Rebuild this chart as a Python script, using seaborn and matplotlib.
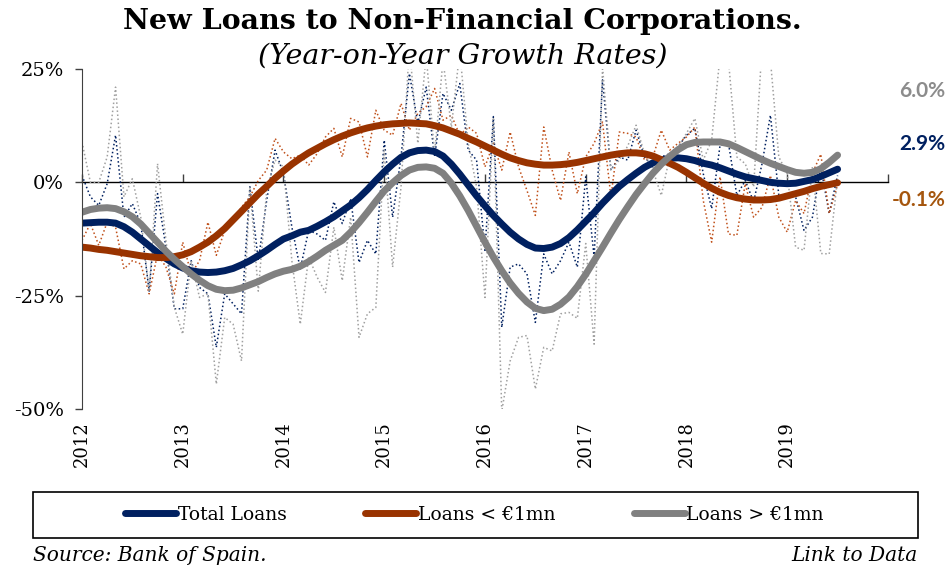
import numpy as np
import pandas as pd
import seaborn as sns
import matplotlib.pyplot as plt

# Monthly YoY growth (%) of new loans, Jan 2012 - Jul 2019
total_raw = [1.5, -3.2, -5.1, -0.3, 10.4, -7.7, -4.7, -9.1, -24.0, -2.5, -14.3, -27.9,
             -27.9, -17.3, -23.2, -24.6, -36.4, -24.6, -26.8, -29.0, -1.0, -17.3, -4.0, 7.1,
             1.9, -9.9, -19.1, -10.6, -11.4, -12.8, -4.3, -9.1, -3.6, -17.7, -12.8, -15.8,
             9.3, -7.7, 5.6, 24.0, 13.0, 21.0, 5.6, 19.6, 15.9, 21.8, 7.1, 4.9,
             -15.0, 14.5, -32.0, -18.7, -18.0, -20.2, -30.9, -15.8, -20.2, -17.3, -13.2, -18.7,
             1.2, -16.5, 22.6, 2.7, 5.6, 4.9, 11.5, 5.6, 3.4, 5.6, 6.3, 7.8,
             10.4, 11.9, 1.9, -5.8, 8.2, 8.6, -2.9, 0.4, -4.3, 4.1, 14.8, -2.9,
             -2.5, -3.2, -10.6, -7.7, 3.4, -6.9, 1.5]
small_raw = [-12.8, -9.1, -13.9, -8.8, -9.9, -19.1, -17.3, -18.0, -24.6, -15.8, -18.7, -24.6,
             -13.2, -20.2, -17.3, -8.8, -16.1, -10.6, -8.4, -5.5, -3.2, 0.4, 2.7, 9.7,
             6.7, 5.2, 6.0, 3.8, 6.3, 10.0, 11.9, 5.6, 14.1, 13.3, 5.6, 15.9,
             11.5, 10.4, 17.4, 11.5, 15.2, 16.7, 20.7, 13.7, 14.8, 10.4, 12.2, 10.8,
             3.4, 8.6, 2.7, 11.1, 3.4, -1.8, -7.3, 12.2, 2.7, -4.0, 6.7, -2.5,
             5.6, 8.6, 13.3, -3.2, 11.1, 10.8, 10.0, 4.9, 5.6, 11.5, 7.1, 8.6,
             10.0, 12.2, -4.0, -13.2, 1.2, -11.4, -11.7, -0.3, -7.7, -5.5, 1.5, -7.7,
             -11.0, -4.0, -6.9, 2.0, 6.2, -6.9, -0.5]
large_raw = [8.9, 0.0, 0.0, 5.6, 21.0, -3.2, 0.8, -7.7, -24.0, 4.1, -12.8, -27.6,
             -33.5, -17.3, -25.4, -24.6, -44.5, -29.8, -31.3, -39.4, -1.0, -24.0, -1.8, 4.9,
             3.4, -17.3, -31.3, -16.5, -20.9, -24.3, -9.9, -21.7, -7.7, -34.2, -29.0, -27.6,
             7.1, -18.7, -1.0, 30.0, 8.6, 28.0, 6.3, 27.0, 12.2, 29.0, 8.6, -1.0,
             -25.4, 14.0, -50.5, -39.4, -34.2, -33.8, -45.6, -36.4, -37.2, -29.0, -28.7, -30.0,
             -13.5, -35.7, 25.5, 2.7, 4.9, 8.0, 12.6, 6.3, 2.7, -2.9, 5.6, 7.8,
             10.8, 14.1, 4.9, 9.3, 28.0, 27.0, 5.6, 4.1, -1.0, 30.0, 27.0, 5.6,
             1.9, -14.3, -15.0, 3.4, -15.7, -15.8, 1.0]

# smoothed trends (thick lines)
total_smooth = [-9.0, -8.9, -8.8, -8.8, -9.0, -9.8, -11.0, -12.5, -14.0, -15.5, -16.8, -18.0,
                -18.9, -19.5, -19.8, -19.9, -19.8, -19.5, -19.0, -18.2, -17.3, -16.2, -15.0, -13.7,
                -12.5, -11.8, -11.0, -10.6, -9.7, -8.7, -7.6, -6.3, -5.0, -3.4, -1.6, 0.4,
                2.3, 4.0, 5.5, 6.5, 7.0, 7.1, 6.8, 5.8, 4.0, 1.8, -0.6, -3.0,
                -5.2, -7.3, -9.2, -11.0, -12.5, -13.7, -14.5, -14.6, -14.3, -13.5, -12.2, -10.5,
                -8.6, -6.7, -4.6, -2.7, -0.9, 0.6, 2.0, 3.3, 4.3, 4.9, 5.3, 5.4,
                5.2, 4.8, 4.2, 3.8, 3.2, 2.5, 1.8, 1.2, 0.8, 0.4, 0.0, -0.2,
                -0.3, -0.2, 0.2, 0.6, 1.3, 2.1, 2.9]
small_smooth = [-14.3, -14.5, -14.8, -15.0, -15.3, -15.6, -15.9, -16.2, -16.4, -16.6, -16.6, -16.4,
                -16.0, -15.3, -14.3, -13.2, -11.8, -10.2, -8.3, -6.4, -4.5, -2.6, -0.9, 0.9,
                2.5, 4.0, 5.3, 6.5, 7.5, 8.5, 9.4, 10.2, 10.9, 11.5, 12.0, 12.4,
                12.7, 12.9, 13.0, 13.1, 13.0, 12.9, 12.5, 12.0, 11.3, 10.6, 9.7, 8.9,
                8.0, 7.1, 6.2, 5.4, 4.8, 4.3, 4.0, 3.8, 3.8, 3.9, 4.1, 4.4,
                4.8, 5.2, 5.6, 6.0, 6.3, 6.5, 6.5, 6.3, 5.8, 5.0, 4.2, 3.3,
                2.2, 1.0, -0.2, -1.3, -2.2, -2.9, -3.4, -3.7, -3.9, -3.9, -3.8, -3.5,
                -3.0, -2.5, -2.0, -1.4, -0.9, -0.5, -0.1]
large_smooth = [-6.6, -6.0, -5.7, -5.6, -5.8, -6.5, -7.6, -9.2, -11.2, -13.2, -15.2, -17.0,
                -18.6, -20.2, -21.6, -22.8, -23.6, -23.9, -23.8, -23.3, -22.6, -21.9, -21.0, -20.2,
                -19.6, -19.2, -18.5, -17.5, -16.3, -15.0, -13.9, -12.8, -11.0, -8.9, -6.6, -4.2,
                -1.9, -0.1, 1.5, 2.7, 3.3, 3.4, 3.1, 2.0, -0.2, -3.0, -6.2, -9.7,
                -13.2, -16.5, -19.5, -22.2, -24.5, -26.4, -27.8, -28.3, -28.0, -26.9, -25.3, -23.0,
                -20.3, -17.3, -14.3, -11.2, -8.2, -5.4, -2.7, -0.3, 2.0, 4.0, 5.7, 7.2,
                8.3, 8.8, 8.9, 8.9, 8.9, 8.5, 7.7, 6.8, 5.9, 5.0, 4.2, 3.5,
                2.8, 2.2, 2.0, 2.2, 3.0, 4.4, 6.0]

series_names = ["Total Loans", "Loans < €1mn", "Loans > €1mn"]
year_ticks = list(range(2012, 2021))
year_labels = [str(y) for y in range(2012, 2020)] + [""]
y_ticks = [-50, -25, 0, 25]
y_labels = ["-50%", "-25%", "0%", "25%"]

navy = "#002060"
rust = "#993300"
grey = "#808080"

df = pd.DataFrame({
    "t": 2012 + np.arange(len(total_raw)) / 12,
    "total_raw": total_raw, "small_raw": small_raw, "large_raw": large_raw,
    "total_smooth": total_smooth, "small_smooth": small_smooth, "large_smooth": large_smooth,
})

sns.set_style("white")
plt.rcParams["font.family"] = ["DejaVu Serif"]
plt.rcParams["text.color"] = "black"
plt.rcParams["xtick.color"] = "black"
plt.rcParams["ytick.color"] = "black"

fig = plt.figure(figsize=(9.5, 5.72), dpi=100)
ax = fig.add_axes([0.0863, 0.285, 0.8484, 0.5944])

# thin dotted monthly series
sns.lineplot(data=df, x="t", y="total_raw", ax=ax, color=navy, lw=1.1, linestyle=":", legend=False)
sns.lineplot(data=df, x="t", y="small_raw", ax=ax, color="#C0501A", lw=1.1, linestyle=":", legend=False)
sns.lineplot(data=df, x="t", y="large_raw", ax=ax, color="#A0A0A0", lw=1.1, linestyle=":", legend=False)

# thick trend lines
sns.lineplot(data=df, x="t", y="total_smooth", ax=ax, color=navy, lw=5,
             solid_capstyle="round", label=series_names[0])
sns.lineplot(data=df, x="t", y="small_smooth", ax=ax, color=rust, lw=5,
             solid_capstyle="round", label=series_names[1])
sns.lineplot(data=df, x="t", y="large_smooth", ax=ax, color=grey, lw=5,
             solid_capstyle="round", label=series_names[2])

ax.set_xlim(2012, 2020)
ax.set_ylim(-50, 25)
ax.set_xlabel("")
ax.set_ylabel("")
ax.set_yticks(y_ticks, y_labels)
ax.set_xticks(year_ticks, year_labels, rotation=90)
ax.tick_params(axis="x", length=0, pad=9, labelsize=13, labelcolor="black")
ax.tick_params(axis="y", left=True, direction="out", length=5, width=1,
               color="#404040", pad=8, labelsize=14, labelcolor="black")
for s in ["top", "right", "bottom"]:
    ax.spines[s].set_visible(False)
ax.spines["left"].set_color("#404040")

# zero line acting as the x axis
zero = ax.secondary_xaxis(0, transform=ax.transData)
zero.set_xticks(year_ticks)
zero.tick_params(direction="in", length=6, width=1, labelbottom=False, color="#404040")
zero.spines["bottom"].set_color("black")
zero.spines["bottom"].set_linewidth(1)

# last values on the right
last_vals = [large_smooth[-1], total_smooth[-1], small_smooth[-1]]
label_y = [20.1, 8.4, -4.0]
label_colors = ["#8C8C8C", navy, "#A5560E"]
for v, yy, c in zip(last_vals, label_y, label_colors):
    ax.text(1.071, yy, f"{v:.1f}%", transform=ax.get_yaxis_transform(), ha="right",
            va="center", color=c, fontsize=15, fontweight="bold", family=["Lato", "DejaVu Sans"],
            clip_on=False)

# legend in a box under the chart
ax.legend(loc="center", bbox_to_anchor=(0.4995, 0.0997), bbox_transform=fig.transFigure,
          ncol=3, frameon=False, handlelength=2.7, handletextpad=0.1,
          columnspacing=4.2, fontsize=13.5, labelcolor="black")
fig.patches.append(plt.Rectangle((0.0347, 0.0594), 0.9316, 0.0804, transform=fig.transFigure,
                                 fill=False, edgecolor="black", lw=1.2))

fig.text(0.487, 0.962, "New Loans to Non-Financial Corporations.", ha="center", va="center",
         fontsize=20.5, fontweight="bold", color="black")
fig.text(0.487, 0.902, "(Year-on-Year Growth Rates)", ha="center", va="center",
         fontsize=20.5, style="italic", color="black")
fig.text(0.0347, 0.028, "Source: Bank of Spain.", ha="left", va="center", fontsize=14.5,
         style="italic", color="black")
fig.text(0.966, 0.028, "Link to Data", ha="right", va="center", fontsize=14.5,
         style="italic", color="black")

fig.savefig("out.png", dpi=100)
